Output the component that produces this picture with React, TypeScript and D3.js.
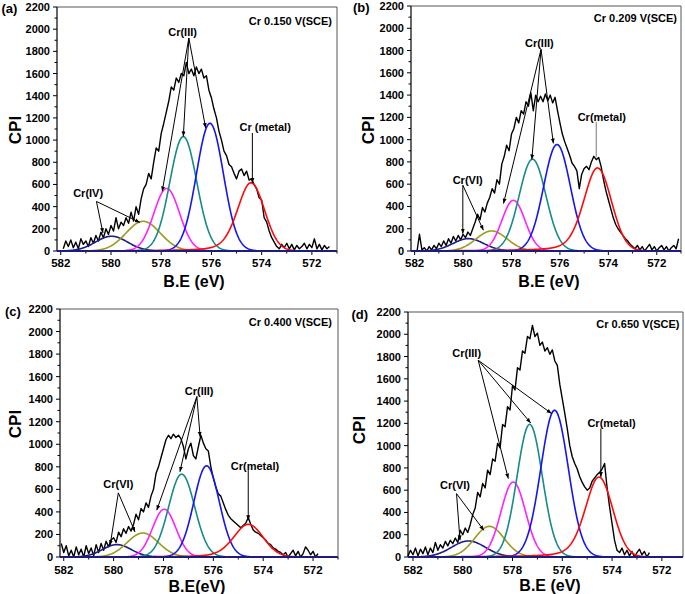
import React from "react";
import * as d3 from "d3";

// ---------- shared tick values / labels ----------
const xTickValues = [582, 580, 578, 576, 574, 572];
const xMinorTicks = [581, 579, 577, 575, 573, 571];
const yTickValues = [0, 200, 400, 600, 800, 1000, 1200, 1400, 1600, 1800, 2000, 2200];
const yMinorTicks = [100, 300, 500, 700, 900, 1100, 1300, 1500, 1700, 1900, 2100];

const panelLetters = ["(a)", "(b)", "(c)", "(d)"];
const potentialLabels = ["Cr 0.150 V(SCE)", "Cr 0.209 V(SCE)", "Cr 0.400 V(SCE)", "Cr 0.650 V(SCE)"];
const xAxisTitles = ["B.E (eV)", "B.E (eV)", "B.E(eV)", "B.E (eV)"];
const yAxisTitle = "CPI";

// ---------- fitted components (Cr(VI)/(IV), satellite, Cr(III) x3, Cr metal) ----------
const peakColors = ["#1c1c8a", "#9b9b1f", "#ff22ff", "#178a8a", "#1515f2", "#ff0a0a"];
const peakTail = [0, 0, 0, 0, 0, 0.3];

const centersA = [579.98, 578.72, 577.78, 577.12, 576.06, 574.43];
const heightsA = [133, 268, 564, 1031, 1151, 615];
const fwhmA = [1.5, 1.6, 1.2, 1.26, 1.26, 1.27];

const centersB = [579.78, 578.82, 577.92, 577.13, 576.12, 574.45];
const heightsB = [111, 180, 455, 824, 956, 746];
const fwhmB = [1.5, 1.5, 1.12, 1.3, 1.3, 1.35];

const centersC = [579.87, 578.83, 577.97, 577.27, 576.27, 574.6];
const heightsC = [110, 213, 424, 735, 809, 290];
const fwhmC = [1.35, 1.47, 1.1, 1.23, 1.2, 1.4];

const centersD = [579.77, 578.93, 577.97, 577.31, 576.31, 574.53];
const heightsD = [144, 275, 673, 1191, 1317, 718];
const fwhmD = [1.6, 1.4, 1.16, 1.2, 1.3, 1.3];

// ---------- measured spectra (CPI, 0.1 eV steps from start, descending BE) ----------
const rawStartA = 581.9;
const rawA = [
  20, 90, 40, 100, 30, 80, 20, 110, 60, 90,
  40, 120, 70, 140, 90, 170, 120, 200, 150, 230,
  180, 300, 200, 260, 230, 300, 250, 350, 270, 400,
  330, 470, 560, 600, 700, 650, 800, 930, 900, 1060,
  1150, 1250, 1350, 1480, 1450, 1560, 1520, 1600, 1580, 1700,
  1600, 1640, 1580, 1660, 1600, 1640, 1560, 1580, 1450, 1380,
  1280, 1200, 1080, 1000, 900, 860, 780, 760, 700, 650,
  720, 740, 680, 720, 640, 650, 600, 560, 480, 460,
  300, 260, 180, 120, 80, 40, 20, 60, 30, 70,
  20, 60, 10, 50, 20, 40, 70, 20, 60, 30,
  110, 20, 60, 10, 50, 20, 40,
];

const rawStartB = 581.9;
const rawB = [
  0, 150, 10, 30, 0, 40, 10, 50, 20, 70,
  40, 90, 50, 110, 70, 130, 90, 140, 100, 150,
  120, 170, 140, 200, 260, 330, 280, 390, 350, 430,
  480, 560, 520, 640, 600, 780, 850, 950, 900, 1050,
  1100, 1200, 1150, 1260, 1230, 1340, 1300, 1420, 1260, 1400,
  1340, 1390, 1340, 1410, 1350, 1400, 1330, 1380, 1260, 1150,
  1050, 980, 920, 860, 790, 760, 720, 560, 690, 740,
  760, 730, 800, 850, 820, 840, 760, 640, 540, 460,
  380, 300, 240, 200, 170, 140, 110, 90, 60, 40,
  20, 50, 10, 40, 0, 30, 60, 10, 40, 0,
  30, 50, 10, 40, 0, 30, 50, 20, 110,
];

const rawStartC = 582.1;
const rawC = [
  120, 40, 100, 10, 60, 0, 90, 20, 70, 0,
  100, 30, 80, 10, 110, 40, 120, 60, 140, 90,
  150, 170, 130, 220, 180, 250, 210, 270, 230, 290,
  380, 330, 430, 400, 480, 440, 540, 600, 740, 800,
  880, 960, 1040, 1080, 1050, 1090, 1060, 1080, 1050, 980,
  870, 960, 1010, 900, 870, 980, 1080, 1010, 960, 940,
  800, 700, 620, 560, 540, 480, 420, 370, 340, 320,
  300, 280, 260, 280, 300, 350, 290, 240, 220, 210,
  190, 170, 150, 120, 110, 80, 70, 50, 40, 20,
  40, 0, 30, 60, 10, 50, 0, 30, 90, 60,
  20, 50, 0, 30,
];

const rawStartD = 582.2;
const rawD = [
  10, 60, 20, 80, 10, 70, 30, 90, 20, 80,
  40, 130, 60, 110, 80, 140, 100, 150, 120, 170,
  130, 240, 200, 260, 220, 290, 380, 440, 580, 540,
  660, 620, 780, 740, 880, 860, 1020, 980, 1190, 1170,
  1350, 1320, 1540, 1500, 1700, 1680, 1850, 1830, 1980, 1960,
  2080, 1980, 2010, 1900, 1930, 1850, 1880, 1820, 1860, 1760,
  1720, 1550, 1420, 1290, 1150, 1000, 900, 840, 790, 720,
  670, 630, 600, 620, 680, 710, 740, 760, 790, 840,
  620, 450, 300, 150, 60, 40, 80, 20, 60, 10,
  50, 0, 40, 70, 20, 50, 0, 40,
];

// ---------- annotations, in data units (eV, CPI) ----------
type Annot = { text: string; label: [number, number]; apex: [number, number]; targets: [number, number][]; gray?: boolean };

const annotA: Annot[] = [
  { text: "Cr(III)", label: [577.15, 1977], apex: [576.9, 1920], targets: [[577.96, 537], [577.12, 1033], [576.23, 1109]] },
  { text: "Cr (metal)", label: [573.86, 1114], apex: [574.37, 1064], targets: [[574.37, 613]] },
  { text: "Cr(IV)", label: [580.91, 523], apex: [580.58, 447], targets: [[580.32, 162], [578.85, 258]] },
];
const annotB: Annot[] = [
  { text: "Cr(III)", label: [576.85, 1865], apex: [576.78, 1811], targets: [[578.33, 426], [577.16, 822], [576.27, 966]] },
  { text: "Cr(metal)", label: [574.27, 1205], apex: [574.5, 1160], targets: [[574.5, 845]], gray: true },
  { text: "Cr(VI)", label: [579.81, 636], apex: [580.01, 591], targets: [[580.01, 156], [579.16, 186]] },
];
const annotC: Annot[] = [
  { text: "Cr(III)", label: [576.57, 1476], apex: [576.66, 1423], targets: [[578.27, 415], [577.34, 756], [576.53, 1067]] },
  { text: "Cr(metal)", label: [574.33, 807], apex: [574.6, 771], targets: [[574.6, 326]] },
  { text: "Cr(VI)", label: [579.81, 644], apex: [579.81, 569], targets: [[580.14, 104], [579.14, 222]] },
];
const annotD: Annot[] = [
  { text: "Cr(III)", label: [579.84, 1832], apex: [579.38, 1767], targets: [[578.17, 704], [577.27, 1203], [576.43, 1288]] },
  { text: "Cr(metal)", label: [574.02, 1203], apex: [574.45, 1153], targets: [[574.45, 718]] },
  { text: "Cr(VI)", label: [580.31, 644], apex: [580.25, 569], targets: [[580.11, 150], [579.15, 239]] },
];

// ---------- layout (pixels) ----------
const layouts = [
  { left: 57, right: 337, top: 7, bottom: 251, dom: [582.15, 571.0], letter: [1.5, 12.5], pot: [332, 24.5], cpi: [15, 130], xt: [194, 287], tickDy: 16 },
  { left: 411, right: 681, top: 6, bottom: 251, dom: [582.15, 571.0], letter: [353, 11.5], pot: [677, 22], cpi: [368, 130], xt: [549, 287], tickDy: 16 },
  { left: 60, right: 338, top: 309, bottom: 557, dom: [582.15, 571.0], letter: [5, 316], pot: [332, 325.5], cpi: [15, 424], xt: [197, 592], tickDy: 17 },
  { left: 408, right: 683, top: 312, bottom: 557, dom: [582.2, 571.15], letter: [351.5, 319], pot: [679.5, 327.5], cpi: [359, 430], xt: [550, 591], tickDy: 17 },
];

const panelsData = [
  { centers: centersA, heights: heightsA, fwhm: fwhmA, rawStart: rawStartA, raw: rawA, annots: annotA },
  { centers: centersB, heights: heightsB, fwhm: fwhmB, rawStart: rawStartB, raw: rawB, annots: annotB },
  { centers: centersC, heights: heightsC, fwhm: fwhmC, rawStart: rawStartC, raw: rawC, annots: annotC },
  { centers: centersD, heights: heightsD, fwhm: fwhmD, rawStart: rawStartD, raw: rawD, annots: annotD },
];

const FONT = "'Liberation Sans', Arial, Helvetica, sans-serif";

function peakValue(e: number, c: number, h: number, w: number, m: number) {
  const r = ((e - c) * (e - c) * 4) / (w * w);
  const g = Math.exp(-Math.LN2 * r);
  if (e > c && m > 0) return h * ((1 - m) * g + m / (1 + r));
  return h * g;
}

function Panel({ idx }: { idx: number }) {
  const L = layouts[idx];
  const P = panelsData[idx];
  const x = d3.scaleLinear().domain(L.dom).range([L.left, L.right]);
  const y = d3.scaleLinear().domain([0, 2200]).range([L.bottom, L.top]);

  const rawPts: [number, number][] = P.raw.map((v, i) => [P.rawStart - i * 0.1, v]);
  const line = d3.line<[number, number]>().x((d) => x(d[0])).y((d) => y(d[1]));

  const grid = d3.range(L.dom[0], L.dom[1] - 0.001, -0.02);
  const peakPaths = P.centers.map((c, k) =>
    line(grid.map((e) => [e, peakValue(e, c, P.heights[k], P.fwhm[k], peakTail[k])] as [number, number]))
  );

  const mk = `arrow${idx}`;
  return (
    <g>
      {/* frame */}
      <line x1={L.left} x2={L.right} y1={L.top} y2={L.top} stroke="#555" strokeWidth={1} />
      <line x1={L.right} x2={L.right} y1={L.top} y2={L.bottom} stroke="#555" strokeWidth={1} />
      <line x1={L.left} x2={L.left} y1={L.top} y2={L.bottom} stroke="#000" strokeWidth={1.2} />
      <line x1={L.left} x2={L.right} y1={L.bottom} y2={L.bottom} stroke="#000" strokeWidth={1.2} />

      {/* y ticks */}
      {yTickValues.map((v) => (
        <g key={"y" + v}>
          <line x1={L.left - 4} x2={L.left} y1={y(v)} y2={y(v)} stroke="#000" strokeWidth={1} />
          <text x={L.left - 7} y={y(v) + 4} textAnchor="end" fontFamily={FONT} fontWeight="bold" fontSize={11}>
            {v}
          </text>
        </g>
      ))}
      {yMinorTicks.map((v) => (
        <line key={"ym" + v} x1={L.left - 2.5} x2={L.left} y1={y(v)} y2={y(v)} stroke="#000" strokeWidth={1} />
      ))}
      {/* x ticks */}
      {xTickValues.map((v) => (
        <g key={"x" + v}>
          <line x1={x(v)} x2={x(v)} y1={L.bottom} y2={L.bottom + 4} stroke="#000" strokeWidth={1} />
          <text x={x(v)} y={L.bottom + L.tickDy} textAnchor="middle" fontFamily={FONT} fontWeight="bold" fontSize={11.5}>
            {v}
          </text>
        </g>
      ))}
      {xMinorTicks.map((v) => (
        <line key={"xm" + v} x1={x(v)} x2={x(v)} y1={L.bottom} y2={L.bottom + 2.5} stroke="#000" strokeWidth={1} />
      ))}

      {/* titles */}
      <text x={L.letter[0]} y={L.letter[1]} fontFamily={FONT} fontWeight="bold" fontSize={13}>
        {panelLetters[idx]}
      </text>
      <text x={L.pot[0]} y={L.pot[1]} textAnchor="end" fontFamily={FONT} fontWeight="bold" fontSize={11}>
        {potentialLabels[idx]}
      </text>
      <text x={L.xt[0]} y={L.xt[1]} textAnchor="middle" fontFamily={FONT} fontWeight="bold" fontSize={16}>
        {xAxisTitles[idx]}
      </text>
      <text
        transform={`translate(${L.cpi[0] + 6},${L.cpi[1]}) rotate(-90)`}
        textAnchor="middle"
        fontFamily={FONT}
        fontWeight="bold"
        fontSize={17}
      >
        {yAxisTitle}
      </text>

      {/* data */}
      <path d={line(rawPts) || ""} fill="none" stroke="#000" strokeWidth={1.4} strokeLinejoin="round" />
      {peakPaths.map((d, k) => (
        <path key={"p" + k} d={d || ""} fill="none" stroke={peakColors[k]} strokeWidth={1.6} />
      ))}
      <line x1={L.left} x2={L.right} y1={y(0)} y2={y(0)} stroke="#1c1c80" strokeWidth={2} />

      {/* annotations */}
      <defs>
        <marker id={mk} viewBox="0 0 10 10" refX={10} refY={5} markerWidth={5} markerHeight={5} orient="auto">
          <path d="M0,1 L10,5 L0,9 z" fill="#000" />
        </marker>
      </defs>
      {P.annots.map((a, j) => (
        <g key={"a" + j}>
          <text
            x={x(a.label[0])}
            y={y(a.label[1]) + 4}
            textAnchor="middle"
            fontFamily={FONT}
            fontWeight="bold"
            fontSize={11}
          >
            {a.text}
          </text>
          {a.targets.map((t, q) => (
            <line
              key={q}
              x1={x(a.apex[0])}
              y1={y(a.apex[1])}
              x2={x(t[0])}
              y2={y(t[1])}
              stroke={a.gray ? "#777" : "#000"}
              strokeWidth={1}
              markerEnd={a.gray ? undefined : `url(#${mk})`}
            />
          ))}
        </g>
      ))}
    </g>
  );
}

export default function App() {
  return (
    <svg
      width={685}
      height={594}
      viewBox="0 0 685 594"
      style={{ position: "absolute", left: 0, top: 0, background: "#fff" }}
    >
      <rect x={0} y={0} width={685} height={594} fill="#fff" />
      {[0, 1, 2, 3].map((i) => (
        <Panel key={i} idx={i} />
      ))}
    </svg>
  );
}
